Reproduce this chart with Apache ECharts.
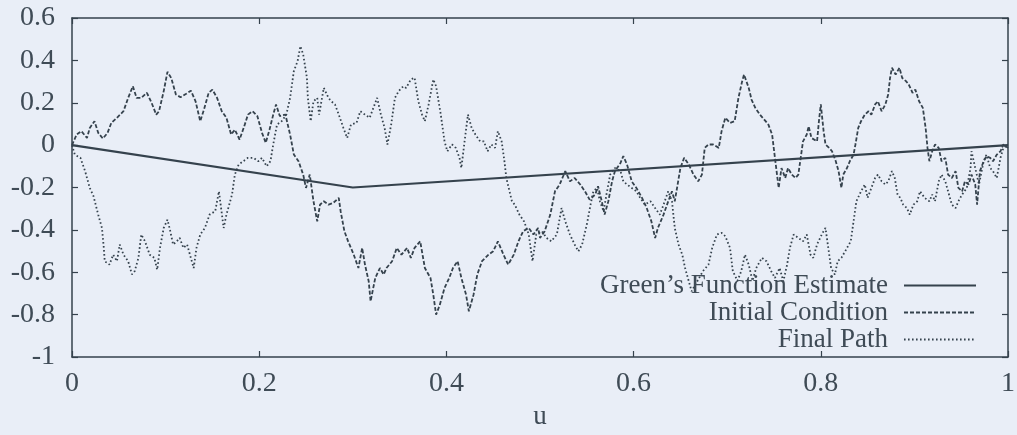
<!DOCTYPE html>
<html>
<head>
<meta charset="utf-8">
<script src="https://cdn.jsdelivr.net/npm/echarts@6/dist/echarts.min.js"></script>
<style>
  html, body { margin: 0; padding: 0; background: #e9eef7; }
  #chart { width: 1017px; height: 435px; }
</style>
</head>
<body>
<div id="chart"></div>
<script>
// series names, as in the key
const seriesNames = ['Green\u2019s Function Estimate', 'Initial Condition', 'Final Path']

// Green's function estimate: piecewise linear
const greenEstimate = [[0, 0], [0.3, -0.2], [1, 0]]

// initial condition path (u, value)
const initialCondition = [
  [0, 0], [0.005, 0.05], [0.010, 0.066], [0.016, 0.034], [0.019, 0.081], [0.024, 0.113], [0.028, 0.058],
  [0.033, 0.031], [0.038, 0.058], [0.042, 0.105], [0.048, 0.129], [0.055, 0.160], [0.060, 0.223],
  [0.065, 0.278], [0.069, 0.223], [0.074, 0.223], [0.080, 0.247], [0.085, 0.200], [0.090, 0.144],
  [0.093, 0.160], [0.098, 0.255], [0.102, 0.346], [0.106, 0.317], [0.111, 0.239], [0.116, 0.226],
  [0.122, 0.242], [0.127, 0.257], [0.132, 0.207], [0.137, 0.113], [0.141, 0.168], [0.146, 0.247],
  [0.150, 0.262], [0.155, 0.223], [0.160, 0.160], [0.165, 0.129], [0.170, 0.050], [0.174, 0.073],
  [0.179, 0.026], [0.184, 0.089], [0.188, 0.144], [0.193, 0.160], [0.198, 0.137], [0.203, 0.058],
  [0.207, 0.011], [0.211, 0.073], [0.215, 0.144], [0.218, 0.192], [0.222, 0.137], [0.228, 0.144],
  [0.233, 0.050], [0.237, -0.044], [0.242, -0.076], [0.247, -0.139], [0.250, -0.202], [0.254, -0.139],
  [0.258, -0.265], [0.262, -0.360], [0.265, -0.281], [0.269, -0.265], [0.274, -0.281], [0.279, -0.273],
  [0.285, -0.249], [0.287, -0.312], [0.291, -0.406], [0.295, -0.454], [0.301, -0.517], [0.306, -0.580],
  [0.310, -0.485], [0.313, -0.564], [0.317, -0.643], [0.319, -0.737], [0.324, -0.627], [0.329, -0.580],
  [0.333, -0.611], [0.336, -0.580], [0.342, -0.548], [0.347, -0.485], [0.352, -0.517], [0.358, -0.485],
  [0.362, -0.532], [0.366, -0.485], [0.372, -0.454], [0.377, -0.580], [0.383, -0.627], [0.386, -0.706],
  [0.389, -0.800], [0.393, -0.753], [0.398, -0.674], [0.403, -0.627], [0.407, -0.580], [0.412, -0.548],
  [0.416, -0.627], [0.421, -0.706], [0.424, -0.784], [0.429, -0.706], [0.433, -0.611], [0.438, -0.548],
  [0.445, -0.517], [0.450, -0.501], [0.455, -0.454], [0.461, -0.517], [0.466, -0.564], [0.472, -0.517],
  [0.477, -0.454], [0.482, -0.406], [0.488, -0.391], [0.493, -0.422], [0.498, -0.391], [0.500, -0.438],
  [0.505, -0.406], [0.511, -0.328], [0.516, -0.218], [0.521, -0.186], [0.527, -0.123], [0.532, -0.171],
  [0.537, -0.155], [0.543, -0.186], [0.548, -0.218], [0.553, -0.257], [0.559, -0.233], [0.562, -0.194],
  [0.566, -0.265], [0.569, -0.328], [0.573, -0.265], [0.577, -0.171], [0.580, -0.123], [0.586, -0.084],
  [0.589, -0.052], [0.593, -0.092], [0.598, -0.171], [0.603, -0.202], [0.609, -0.249], [0.614, -0.297],
  [0.619, -0.360], [0.623, -0.438], [0.626, -0.391], [0.632, -0.328], [0.637, -0.265], [0.641, -0.218],
  [0.644, -0.265], [0.650, -0.108], [0.654, -0.060], [0.659, -0.092], [0.664, -0.139], [0.669, -0.171],
  [0.673, -0.139], [0.676, -0.013], [0.680, 0.003], [0.685, 0.003], [0.691, -0.013], [0.694, 0.066],
  [0.698, 0.129], [0.703, 0.105], [0.708, 0.113], [0.712, 0.223], [0.716, 0.302], [0.718, 0.333],
  [0.723, 0.270], [0.726, 0.215], [0.730, 0.176], [0.735, 0.144], [0.741, 0.113], [0.744, 0.097],
  [0.748, 0.050], [0.751, -0.060], [0.755, -0.202], [0.758, -0.108], [0.762, -0.155], [0.765, -0.108],
  [0.769, -0.139], [0.773, -0.155], [0.776, -0.139], [0.779, -0.045], [0.781, 0.018], [0.785, 0.050],
  [0.787, 0.089], [0.790, 0.034], [0.796, 0.018], [0.798, 0.113], [0.800, 0.192], [0.803, 0.066],
  [0.805, 0.003], [0.809, -0.013], [0.812, -0.029], [0.816, -0.076], [0.819, -0.123], [0.822, -0.202],
  [0.824, -0.139], [0.828, -0.108], [0.831, -0.076], [0.835, -0.045], [0.837, 0.003], [0.840, 0.081],
  [0.843, 0.113], [0.847, 0.144], [0.851, 0.160], [0.854, 0.144], [0.858, 0.192], [0.861, 0.207],
  [0.865, 0.160], [0.869, 0.192], [0.872, 0.239], [0.874, 0.317], [0.876, 0.365], [0.880, 0.333],
  [0.884, 0.365], [0.887, 0.317], [0.891, 0.302], [0.894, 0.286], [0.898, 0.247], [0.901, 0.262],
  [0.905, 0.207], [0.909, 0.176], [0.912, 0.081], [0.914, -0.013], [0.916, -0.076], [0.919, -0.029],
  [0.922, 0.003], [0.926, -0.013], [0.929, -0.076], [0.933, -0.060], [0.936, -0.139], [0.940, -0.155],
  [0.944, -0.123], [0.947, -0.202], [0.951, -0.218], [0.954, -0.171], [0.958, -0.186], [0.961, -0.139],
  [0.965, -0.186], [0.967, -0.281], [0.970, -0.123], [0.974, -0.076], [0.977, -0.052], [0.981, -0.060],
  [0.984, -0.076], [0.988, -0.045], [0.992, -0.029], [0.995, 0.003], [1, -0.013]
]

// final path (u, value)
const finalPath = [
  [0, 0], [0.003, -0.045], [0.009, -0.060], [0.014, -0.123], [0.019, -0.202], [0.023, -0.241],
  [0.028, -0.328], [0.032, -0.391], [0.034, -0.485], [0.035, -0.548], [0.040, -0.564], [0.044, -0.517],
  [0.048, -0.548], [0.051, -0.469], [0.055, -0.517], [0.060, -0.548], [0.064, -0.610], [0.067, -0.595],
  [0.071, -0.532], [0.074, -0.422], [0.078, -0.454], [0.083, -0.517], [0.088, -0.532], [0.091, -0.588],
  [0.094, -0.485], [0.098, -0.391], [0.102, -0.352], [0.105, -0.406], [0.108, -0.469], [0.112, -0.454],
  [0.115, -0.438], [0.119, -0.485], [0.123, -0.469], [0.126, -0.517], [0.130, -0.580], [0.133, -0.485],
  [0.137, -0.422], [0.142, -0.391], [0.147, -0.328], [0.153, -0.312], [0.157, -0.218], [0.162, -0.391],
  [0.165, -0.328], [0.171, -0.233], [0.174, -0.139], [0.178, -0.092], [0.183, -0.076], [0.188, -0.060],
  [0.194, -0.060], [0.199, -0.076], [0.203, -0.060], [0.208, -0.100], [0.212, -0.076], [0.215, 0.003],
  [0.219, 0.097], [0.224, 0.113], [0.229, 0.144], [0.233, 0.223], [0.237, 0.349], [0.241, 0.396],
  [0.244, 0.467], [0.247, 0.428], [0.251, 0.317], [0.252, 0.223], [0.255, 0.113], [0.258, 0.207],
  [0.262, 0.223], [0.264, 0.144], [0.269, 0.270], [0.274, 0.223], [0.277, 0.207], [0.281, 0.192],
  [0.285, 0.144], [0.290, 0.081], [0.294, 0.034], [0.298, 0.097], [0.304, 0.105], [0.308, 0.160],
  [0.313, 0.144], [0.318, 0.129], [0.322, 0.176], [0.326, 0.223], [0.330, 0.144], [0.334, 0.081],
  [0.337, 0.003], [0.341, 0.097], [0.345, 0.223], [0.349, 0.255], [0.354, 0.278], [0.357, 0.270],
  [0.362, 0.310], [0.366, 0.318], [0.370, 0.207], [0.374, 0.144], [0.377, 0.113], [0.381, 0.192],
  [0.386, 0.310], [0.389, 0.278], [0.394, 0.144], [0.398, 0.018], [0.401, -0.029], [0.406, 0.003],
  [0.410, -0.013], [0.414, -0.060], [0.416, -0.108], [0.419, 0.003], [0.423, 0.144], [0.427, 0.081],
  [0.431, 0.050], [0.436, 0.018], [0.440, 0.018], [0.444, -0.029], [0.448, 0.003], [0.452, -0.013],
  [0.455, 0.066], [0.459, 0.018], [0.462, -0.076], [0.464, -0.155], [0.470, -0.265], [0.473, -0.281],
  [0.478, -0.328], [0.483, -0.360], [0.488, -0.422], [0.492, -0.548], [0.496, -0.422], [0.502, -0.406],
  [0.507, -0.438], [0.512, -0.454], [0.518, -0.422], [0.523, -0.297], [0.527, -0.360], [0.532, -0.422],
  [0.537, -0.469], [0.541, -0.501], [0.545, -0.469], [0.550, -0.375], [0.554, -0.281], [0.557, -0.218],
  [0.561, -0.202], [0.564, -0.265], [0.568, -0.312], [0.571, -0.233], [0.575, -0.139], [0.580, -0.108],
  [0.586, -0.123], [0.589, -0.171], [0.593, -0.186], [0.598, -0.202], [0.603, -0.218], [0.607, -0.249],
  [0.612, -0.281], [0.618, -0.265], [0.623, -0.297], [0.628, -0.328], [0.632, -0.281], [0.637, -0.218],
  [0.641, -0.265], [0.644, -0.391], [0.648, -0.469], [0.652, -0.517], [0.655, -0.580], [0.659, -0.643],
  [0.662, -0.690], [0.666, -0.658], [0.670, -0.627], [0.674, -0.595], [0.680, -0.564], [0.684, -0.485],
  [0.689, -0.422], [0.694, -0.414], [0.698, -0.430], [0.703, -0.485], [0.706, -0.595], [0.711, -0.640],
  [0.715, -0.595], [0.719, -0.517], [0.723, -0.564], [0.727, -0.640], [0.731, -0.580], [0.737, -0.532],
  [0.742, -0.548], [0.747, -0.595], [0.751, -0.627], [0.756, -0.580], [0.760, -0.643], [0.764, -0.564],
  [0.767, -0.485], [0.771, -0.422], [0.776, -0.438], [0.781, -0.454], [0.785, -0.422], [0.789, -0.517],
  [0.792, -0.532], [0.796, -0.469], [0.801, -0.422], [0.805, -0.391], [0.808, -0.485], [0.811, -0.580],
  [0.815, -0.611], [0.818, -0.548], [0.822, -0.532], [0.826, -0.501], [0.830, -0.469], [0.832, -0.454],
  [0.835, -0.360], [0.838, -0.265], [0.843, -0.218], [0.847, -0.186], [0.850, -0.249], [0.854, -0.202],
  [0.858, -0.155], [0.861, -0.139], [0.865, -0.171], [0.869, -0.186], [0.872, -0.171], [0.876, -0.123],
  [0.879, -0.155], [0.882, -0.233], [0.885, -0.249], [0.888, -0.281], [0.892, -0.297], [0.895, -0.328],
  [0.899, -0.281], [0.903, -0.265], [0.906, -0.218], [0.911, -0.249], [0.916, -0.265], [0.919, -0.233],
  [0.922, -0.265], [0.926, -0.171], [0.929, -0.139], [0.933, -0.171], [0.936, -0.218], [0.940, -0.281],
  [0.944, -0.297], [0.947, -0.265], [0.951, -0.233], [0.956, -0.202], [0.960, -0.108], [0.961, -0.029],
  [0.965, -0.108], [0.969, -0.186], [0.974, -0.076], [0.977, -0.045], [0.981, -0.108], [0.984, -0.123],
  [0.988, -0.155], [0.992, -0.060], [0.995, -0.013], [1, 0.003]
]

const inkColor = '#35424d'
const textColor = '#3f4b56'
const fontFamily = '"Liberation Serif", "DejaVu Serif", serif'

const chart = echarts.init(document.getElementById('chart'), null, { renderer: 'canvas' })

const tickLabel = v => String(Math.round(v * 10) / 10)

const baseX = {
  type: 'value',
  min: 0,
  max: 1,
  interval: 0.2,
  splitLine: { show: false },
  axisLine: { show: true, onZero: false, lineStyle: { color: inkColor, width: 1.5 } },
  axisTick: { show: true, inside: true, length: 6, lineStyle: { color: inkColor, width: 1.2 } }
}
const baseY = {
  type: 'value',
  min: -1,
  max: 0.6,
  interval: 0.2,
  splitLine: { show: false },
  axisLine: { show: true, onZero: false, lineStyle: { color: inkColor, width: 1.5 } },
  axisTick: { show: true, inside: true, length: 6, lineStyle: { color: inkColor, width: 1.2 } }
}

const option = {
  backgroundColor: '#e9eef7',
  animation: false,
  grid: { left: 72, right: 9, top: 18, bottom: 78, containLabel: false, outerBoundsMode: 'none' },
  xAxis: [
    {
      ...baseX,
      position: 'bottom',
      name: 'u',
      nameLocation: 'middle',
      nameGap: 46,
      nameMoveOverlap: false,
      nameTextStyle: { color: textColor, fontFamily, fontSize: 27 },
      axisLabel: { color: textColor, fontFamily, fontSize: 28, margin: 13, formatter: tickLabel }
    },
    { ...baseX, position: 'top', axisLabel: { show: false } }
  ],
  yAxis: [
    {
      ...baseY,
      position: 'left',
      axisLabel: { color: textColor, fontFamily, fontSize: 28, margin: 17, formatter: tickLabel }
    },
    { ...baseY, position: 'right', axisLabel: { show: false } }
  ],
  legend: {
    orient: 'vertical',
    right: 40,
    top: 272,
    padding: 0,
    align: 'right',
    itemWidth: 72,
    itemHeight: 12,
    itemGap: 0,
    data: seriesNames,
    itemStyle: { opacity: 0, color: 'transparent', borderWidth: 0 },
    textStyle: { color: textColor, fontFamily, fontSize: 27, lineHeight: 27, padding: [0, 11, 0, 0] }
  },
  series: [
    {
      name: seriesNames[0],
      type: 'line',
      data: greenEstimate,
      symbol: 'none',
      lineStyle: { color: inkColor, width: 2.2, type: 'solid' },
      itemStyle: { color: inkColor }
    },
    {
      name: seriesNames[1],
      type: 'line',
      data: initialCondition,
      symbol: 'none',
      lineStyle: { color: inkColor, width: 1.8, type: [4, 2] },
      itemStyle: { color: inkColor }
    },
    {
      name: seriesNames[2],
      type: 'line',
      data: finalPath,
      symbol: 'none',
      lineStyle: { color: inkColor, width: 1.8, type: [1.6, 2.4] },
      itemStyle: { color: inkColor }
    }
  ]
}

chart.setOption(option)
</script>
</body>
</html>
